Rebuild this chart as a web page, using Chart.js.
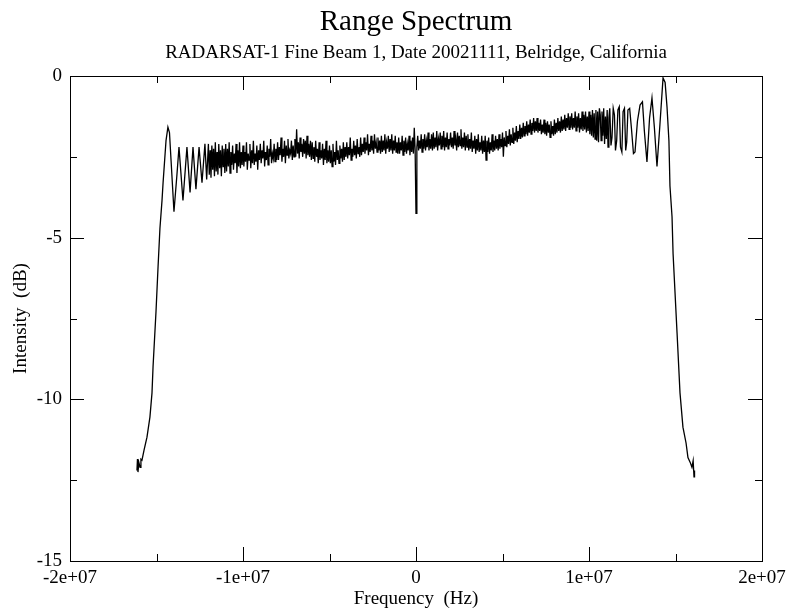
<!DOCTYPE html>
<html>
<head>
<meta charset="utf-8">
<script src="https://cdn.jsdelivr.net/npm/chart.js@4/dist/chart.umd.min.js"></script>
<style>
  body { margin: 0; background: #fff; }
  canvas { display: block; }
</style>
</head>
<body>
<canvas id="spec" width="787" height="610"></canvas>
<script>
// ---------------- DATA ----------------
// rising edge + ringing on the low-frequency side (MHz / dB)
const leftFreqMHz = [-16.13, -16.1, -16.07, -16.02, -15.95, -15.9, -15.84, -15.72, -15.55, -15.38,
  -15.26, -15.2, -15.03, -14.91, -14.8, -14.68, -14.62, -14.45, -14.34, -14.25,
  -14.16, -13.99, -13.82, -13.7, -13.47, -13.24, -13.06, -12.89, -12.72, -12.54,
  -12.37, -12.2, -12.1];
const leftDb = [-12.2, -11.85, -12.25, -11.95, -12.1, -11.85, -11.88, -11.57, -11.17, -10.55,
  -9.8, -9.0, -7.3, -5.9, -4.7, -3.84, -3.3, -2.0, -1.58, -1.75,
  -2.6, -4.2, -3.06, -2.2, -3.85, -2.2, -3.6, -2.2, -3.5, -2.2,
  -3.3, -2.1, -3.2];

// noisy flat part, sampled every 0.05 MHz from -12.0 MHz (one row per MHz)
const bodyStartMHz = -12.0;
const bodyStepMHz = 0.05;
const bodyDb = [
  -2.1, -3.05, -2.3, -3.15, -2.15, -2.9, -2.25, -3.1, -2.05, -2.95, -2.35, -3.05, -2.1, -2.85, -2.3, -3.1, -2.15, -2.8, -2.25, -3.0,
  -2.1, -2.95, -2.25, -2.8, -2.05, -3.0, -2.35, -2.75, -2.15, -2.9, -2.4, -2.7, -2.1, -3.0, -2.3, -2.8, -2.05, -2.85, -2.35, -2.75,
  -2.15, -2.8, -2.35, -2.65, -2.05, -2.9, -2.4, -2.6, -2.1, -2.85, -2.3, -2.7, -2.0, -2.75, -2.4, -2.65, -2.15, -2.9, -2.3, -2.6,
  -2.1, -2.7, -2.3, -2.55, -2.0, -2.8, -2.35, -2.6, -2.15, -2.75, -2.25, -2.5, -1.95, -2.7, -2.4, -2.55, -2.1, -2.65, -2.25, -2.6,
  -2.05, -2.6, -2.2, -2.45, -1.9, -2.65, -2.25, -2.5, -2.0, -2.7, -2.15, -2.45, -1.95, -2.55, -2.3, -2.4, -2.0, -2.6, -2.15, -2.5,
  -1.95, -2.5, -1.65, -2.4, -2.05, -2.55, -1.9, -2.35, -2.1, -2.5, -1.95, -2.4, -2.0, -2.55, -1.85, -2.45, -2.1, -2.5, -2.0, -2.6,
  -2.05, -2.55, -2.2, -2.65, -2.0, -2.5, -2.25, -2.7, -2.05, -2.6, -2.3, -2.55, -2.1, -2.75, -2.25, -2.6, -2.0, -2.7, -2.3, -2.65,
  -2.15, -2.7, -2.3, -2.8, -2.1, -2.65, -2.35, -2.75, -2.0, -2.6, -2.3, -2.7, -2.15, -2.55, -2.25, -2.65, -2.05, -2.6, -2.2, -2.5,
  -2.05, -2.55, -2.2, -2.45, -1.9, -2.6, -2.25, -2.5, -2.0, -2.45, -2.15, -2.55, -1.95, -2.4, -2.2, -2.5, -1.9, -2.45, -2.1, -2.35,
  -1.9, -2.4, -2.05, -2.3, -1.8, -2.45, -2.1, -2.35, -1.85, -2.3, -2.0, -2.4, -1.8, -2.25, -2.05, -2.35, -1.9, -2.3, -2.0, -2.4,
  -1.85, -2.35, -2.0, -2.3, -1.8, -2.4, -2.05, -2.25, -1.85, -2.35, -1.95, -2.3, -1.8, -2.4, -2.0, -2.3, -1.85, -2.35, -2.05, -2.4,
  -1.9, -2.4, -2.05, -2.3, -1.85, -2.45, -2.0, -2.35, -1.9, -2.4, -2.1, -2.3, -1.85, -2.45, -2.0, -2.35, -1.9, -2.4, -1.6, -2.3,
  -4.25, -2.2, -1.85, -2.3, -2.0, -2.25, -1.8, -2.35, -1.95, -2.25, -1.8, -2.3, -2.0, -2.2, -1.75, -2.3, -1.95, -2.25, -1.8, -2.3,
  -1.75, -2.25, -1.9, -2.2, -1.7, -2.3, -1.95, -2.15, -1.75, -2.25, -1.85, -2.2, -1.7, -2.3, -1.9, -2.2, -1.75, -2.25, -1.95, -2.15,
  -1.75, -2.2, -1.9, -2.25, -1.7, -2.15, -1.95, -2.3, -1.75, -2.2, -1.85, -2.15, -1.65, -2.25, -1.9, -2.2, -1.75, -2.3, -1.85, -2.2,
  -1.8, -2.3, -1.95, -2.25, -1.75, -2.35, -2.0, -2.25, -1.85, -2.4, -1.95, -2.3, -1.8, -2.35, -2.05, -2.3, -1.85, -2.4, -2.0, -2.35,
  -1.85, -2.6, -2.0, -2.35, -1.9, -2.4, -2.05, -2.3, -1.8, -2.35, -2.0, -2.3, -1.85, -2.25, -1.95, -2.3, -1.8, -2.25, -1.95, -2.2,
  -1.75, -2.5, -1.9, -2.15, -1.7, -2.2, -1.85, -2.1, -1.65, -2.15, -1.8, -2.05, -1.6, -2.1, -1.75, -2.0, -1.55, -2.05, -1.7, -1.95,
  -1.5, -1.95, -1.6, -1.9, -1.45, -1.85, -1.55, -1.8, -1.4, -1.85, -1.5, -1.75, -1.35, -1.8, -1.45, -1.7, -1.3, -1.75, -1.4, -1.7,
  -1.3, -1.75, -1.45, -1.7, -1.35, -1.8, -1.5, -1.75, -1.35, -1.8, -1.45, -1.85, -1.4, -1.75, -1.5, -1.9, -1.4, -1.8, -1.55, -1.85,
  -1.35, -1.8, -1.45, -1.75, -1.3, -1.7, -1.4, -1.75, -1.25, -1.7, -1.35, -1.65, -1.2, -1.7, -1.3, -1.6, -1.15, -1.65, -1.25, -1.6,
  -1.15, -1.65, -1.3, -1.6, -1.1, -1.7, -1.25, -1.6, -1.15, -1.75, -1.3, -1.65, -1.1, -1.7, -1.2, -1.65, -1.1, -1.75, -1.25, -1.7,
  -1.1, -1.8, -1.2, -1.85, -1.05, -1.9, -1.15, -1.95, -1.05, -2.0, -1.1, -2.05, -1.0
];

// ringing + falling edge on the high-frequency side (MHz / dB)
const rightFreqMHz = [10.65, 10.7, 10.75, 10.8, 10.85, 10.9, 10.95, 11.0, 11.05, 11.1,
  11.15, 11.2, 11.27, 11.33, 11.4, 11.47, 11.53, 11.6, 11.67, 11.75,
  11.82, 11.9, 11.97, 12.05, 12.12, 12.18, 12.25, 12.35, 12.45, 12.57,
  12.66, 12.8, 12.95, 13.09, 13.2, 13.35, 13.5, 13.64, 13.78, 13.93,
  14.1, 14.28, 14.4, 14.51, 14.62, 14.68, 14.8, 14.86, 15.09, 15.26,
  15.43, 15.61, 15.72, 15.85, 15.95, 16.02, 16.07, 16.1];
const rightDb = [-1.2, -2.0, -1.1, -1.85, -1.0, -2.1, -1.25, -1.95, -1.05, -2.2,
  -1.3, -1.0, -2.15, -1.9, -1.0, -1.2, -2.3, -2.0, -1.05, -0.95,
  -2.2, -2.35, -1.1, -1.0, -2.3, -2.05, -1.05, -1.0, -1.6, -2.4,
  -2.35, -1.4, -0.9, -0.8, -1.7, -2.66, -1.3, -0.68, -1.6, -2.8,
  -1.5, -0.06, -0.2, -0.96, -2.0, -3.4, -4.36, -5.5, -7.95, -9.8,
  -10.86, -11.35, -11.8, -11.95, -12.1, -11.9, -12.4, -12.2];

// axis ticks
const xMajorTicks = [-2e7, -1e7, 0, 1e7, 2e7];
const xTickLabels = ['-2e+07', '-1e+07', '0', '1e+07', '2e+07'];
const xMinorTicks = [-1.5e7, -5e6, 5e6, 1.5e7];
const yMajorTicks = [0, -5, -10, -15];
const yMinorTicks = [-2.5, -7.5, -12.5];

const titleText = 'Range Spectrum';
const subtitleText = 'RADARSAT-1 Fine Beam 1, Date 20021111, Belridge, California';

// ---------------- BUILD POINTS ----------------
const points = [];
leftFreqMHz.forEach((f, i) => points.push({x: f * 1e6, y: leftDb[i]}));
bodyDb.forEach((v, i) => points.push({x: (bodyStartMHz / bodyStepMHz + i) * bodyStepMHz * 1e6, y: v}));
rightFreqMHz.forEach((f, i) => points.push({x: f * 1e6, y: rightDb[i]}));

const SERIF = '"Liberation Serif", "DejaVu Serif", serif';

// frame, inward ticks on all four sides, and the two title lines
const framePlugin = {
  id: 'frame',
  afterDraw(c) {
    const {ctx, chartArea: a, scales} = c;
    const xs = scales.x, ys = scales.y;
    ctx.save();
    ctx.strokeStyle = '#000';
    ctx.lineWidth = 1;
    ctx.strokeRect(a.left + 0.5, a.top + 0.5, a.right - a.left, a.bottom - a.top);
    ctx.beginPath();
    const xt = (v, len) => {
      const px = Math.round(xs.getPixelForValue(v)) + 0.5;
      ctx.moveTo(px, a.bottom); ctx.lineTo(px, a.bottom - len);
      ctx.moveTo(px, a.top); ctx.lineTo(px, a.top + len);
    };
    const yt = (v, len) => {
      const py = Math.round(ys.getPixelForValue(v)) + 0.5;
      ctx.moveTo(a.left, py); ctx.lineTo(a.left + len, py);
      ctx.moveTo(a.right, py); ctx.lineTo(a.right - len, py);
    };
    xMajorTicks.forEach(v => xt(v, 14));
    xMinorTicks.forEach(v => xt(v, 7));
    yMajorTicks.forEach(v => yt(v, 14));
    yMinorTicks.forEach(v => yt(v, 7));
    ctx.stroke();

    const cx = (a.left + a.right) / 2;
    ctx.fillStyle = '#000';
    ctx.textAlign = 'center';
    ctx.textBaseline = 'middle';
    ctx.font = '29px ' + SERIF;
    ctx.fillText(titleText, cx, 22);
    ctx.font = '19px ' + SERIF;
    ctx.fillText(subtitleText, cx, 53);
    ctx.restore();
  }
};

new Chart(document.getElementById('spec').getContext('2d'), {
  type: 'line',
  data: {
    datasets: [{
      data: points,
      borderColor: '#000',
      borderWidth: 1.3,
      pointRadius: 0,
      tension: 0,
      fill: false
    }]
  },
  options: {
    responsive: false,
    animation: false,
    layout: {padding: {top: 76, right: 25, left: 0, bottom: 0}},
    plugins: {legend: {display: false}, tooltip: {enabled: false}},
    scales: {
      x: {
        type: 'linear',
        min: -2e7, max: 2e7,
        afterFit: s => { s.height = 49; s.paddingLeft = 0; s.paddingRight = 0; },
        grid: {display: false, drawTicks: false},
        border: {display: false},
        ticks: {
          stepSize: 1e7,
          padding: 6,
          color: '#000',
          maxRotation: 0,
          font: {family: SERIF, size: 19},
          callback: v => xTickLabels[xMajorTicks.indexOf(v)]
        },
        title: {display: true, text: 'Frequency  (Hz)', color: '#000',
          font: {family: SERIF, size: 19}, padding: {top: 0, bottom: 0}}
      },
      y: {
        min: -15, max: 0,
        afterFit: s => { s.width = 70; },
        grid: {display: false, drawTicks: false},
        border: {display: false},
        ticks: {
          stepSize: 5,
          padding: 8,
          color: '#000',
          font: {family: SERIF, size: 19}
        },
        title: {display: true, text: 'Intensity  (dB)', color: '#000',
          font: {family: SERIF, size: 19}, padding: {top: 10, bottom: 0}}
      }
    }
  },
  plugins: [framePlugin]
});
</script>
</body>
</html>
